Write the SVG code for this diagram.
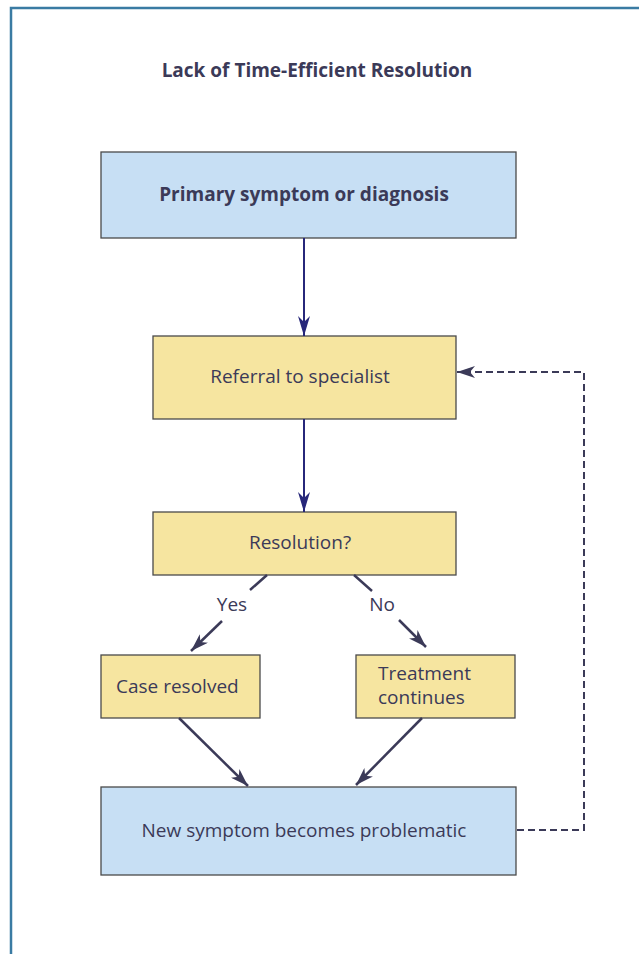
<svg xmlns="http://www.w3.org/2000/svg" width="639" height="954" viewBox="0 0 639 954">
<style>
.t{font-family:"Open Sans","Noto Sans","Liberation Sans",sans-serif;fill:#3b3a58;font-size:19px}
.b{font-weight:bold}
.blue{fill:#c7dff4;stroke:#4a4a4a;stroke-width:1.3}
.yel{fill:#f6e5a0;stroke:#4a4a4a;stroke-width:1.3}
.nv{stroke:#27277a;stroke-width:2;fill:none}
.dk{stroke:#3b3a58;stroke-width:2.5;fill:none}
.ds{stroke:#3b3a58;stroke-width:2;fill:none;stroke-dasharray:7,4}
</style>
<defs>
<marker id="an" viewBox="0 0 20 12" refX="20" refY="6" markerWidth="20" markerHeight="12" markerUnits="userSpaceOnUse" orient="auto"><path d="M0,0 L20,6 L0,12 L6,6 Z" fill="#27277a"/></marker>
<marker id="ad" viewBox="0 0 18 12" refX="18" refY="6" markerWidth="18" markerHeight="12" markerUnits="userSpaceOnUse" orient="auto"><path d="M0,0 L18,6 L0,12 L5,6 Z" fill="#3b3a58"/></marker>
</defs>
<rect width="639" height="954" fill="#fff"/>
<path d="M11,954 V8 H639" fill="none" stroke="#3a7ba3" stroke-width="2.5"/>
<text class="t b" x="317" y="77" text-anchor="middle" font-size="19.4">Lack of Time-Efficient Resolution</text>
<g id="primary"><rect class="blue" x="101" y="152" width="415" height="86"/><text class="t b" x="304" y="201" text-anchor="middle" font-size="18.3">Primary symptom or diagnosis</text></g>
<g id="referral"><rect class="yel" x="153" y="336" width="303" height="83"/><text class="t" x="300" y="383" text-anchor="middle">Referral to specialist</text></g>
<g id="resolution"><rect class="yel" x="153" y="512" width="303" height="63"/><text class="t" x="300" y="549" text-anchor="middle">Resolution?</text></g>
<g id="resolved"><rect class="yel" x="101" y="655" width="159" height="63"/><text class="t" x="116" y="693">Case resolved</text></g>
<g id="continues"><rect class="yel" x="356" y="655" width="159" height="63"/><text class="t" x="378" y="680" font-size="17.5">Treatment</text><text class="t" x="378" y="704" font-size="17.5">continues</text></g>
<g id="newsym"><rect class="blue" x="101" y="787" width="415" height="88"/><text class="t" x="304" y="837" text-anchor="middle">New symptom becomes problematic</text></g>
<g id="connectors">
<line class="nv" x1="304" y1="238" x2="304" y2="336" marker-end="url(#an)"/>
<line class="nv" x1="304" y1="419" x2="304" y2="512" marker-end="url(#an)"/>
<line class="dk" x1="267" y1="575" x2="250" y2="590"/>
<line class="dk" x1="222" y1="621" x2="191" y2="651" marker-end="url(#ad)"/>
<text class="t" x="232" y="611" text-anchor="middle">Yes</text>
<line class="dk" x1="354" y1="575" x2="372" y2="591"/>
<line class="dk" x1="399" y1="620" x2="426" y2="647" marker-end="url(#ad)"/>
<text class="t" x="382" y="611" text-anchor="middle">No</text>
<line class="dk" x1="179" y1="718" x2="248" y2="786" marker-end="url(#ad)"/>
<line class="dk" x1="422" y1="718" x2="356" y2="785" marker-end="url(#ad)"/>
<path class="ds" d="M517,830 H584 V372 H457" marker-end="url(#ad)"/>
</g>
</svg>
